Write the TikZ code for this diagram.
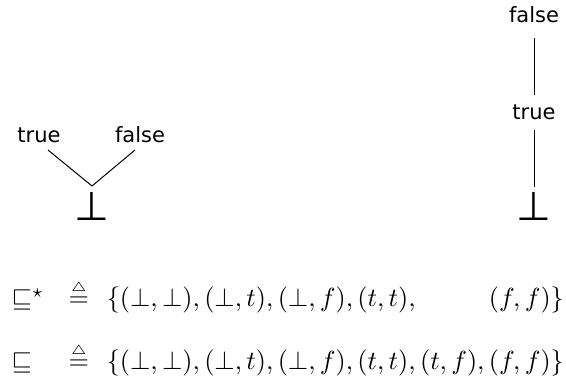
\documentclass[tikz,border=0pt]{standalone}
\usepackage{amssymb}
\usepackage{graphicx}
\usepackage{fontspec}
\newfontfamily\dejavu{DejaVu Sans}
\usetikzlibrary{calc}
\newcommand{\mathsz}[1]{\scalebox{2.62}{$#1$}}
\newcommand{\defeq}{\stackrel{\scriptscriptstyle\triangle}{=}}
\begin{document}
\begin{tikzpicture}[x=1pt,y=-1pt,
  lbl/.style={font=\dejavu\fontsize{21}{25}\selectfont, inner sep=0pt, anchor=base},
  btm/.style={font=\dejavu\fontsize{40}{48}\selectfont, inner sep=0pt, anchor=base},
  mth/.style={inner sep=0pt},
  edge/.style={line width=1pt}]
\useasboundingbox (0,0) rectangle (566,385);

% flat order: bottom below true and false
\node[lbl] (t1) at (39,143) {true};
\node[lbl] (f1) at (140,143) {false};
\node[btm] (b1) at (92,221) {⊥};
\coordinate (v) at (92,186);
\draw[edge] ($(t1.base)+(9,7)$) -- (v) -- ($(f1.base)+(-5,7)$);

% chain order: bottom below true below false
\node[lbl] (f2) at (534,23) {false};
\node[lbl] (t2) at (534,120) {true};
\node[btm] (b2) at (534,221) {⊥};
\draw[edge] ($(f2.base)+(0,15)$) -- ($(t2.base)+(0,-25)$);
\draw[edge] ($(t2.base)+(0,10)$) -- ($(b2.base)+(0,-34)$);

% the two orders as sets of pairs
\node[mth, anchor=base west] (s1) at (11.5,307) {\mathsz{\sqsubseteq^\star}};
\node[mth, anchor=base west] (d1) at (68.5,307) {\mathsz{\defeq}};
\node[mth, anchor=base east] (p1) at (564,307)
  {\mathsz{\{(\bot,\bot),(\bot,t),(\bot,f),(t,t),\phantom{(t,f),}\,(f,f)\}}};

\node[mth, anchor=base west] (s2) at (11.5,370) {\mathsz{\sqsubseteq}};
\node[mth, anchor=base west] (d2) at (68.5,370) {\mathsz{\defeq}};
\node[mth, anchor=base east] (p2) at (564,370)
  {\mathsz{\{(\bot,\bot),(\bot,t),(\bot,f),(t,t),(t,f),(f,f)\}}};
\end{tikzpicture}
\end{document}
